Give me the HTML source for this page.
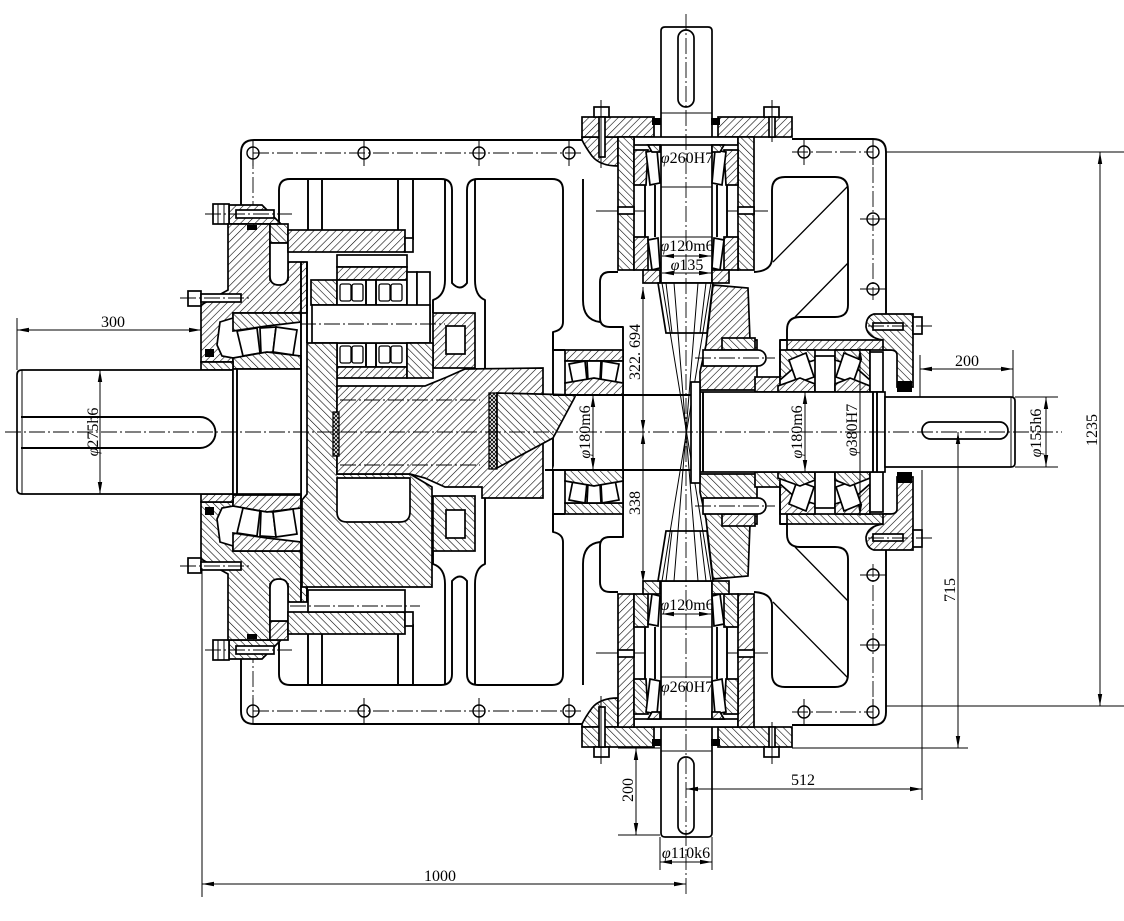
<!DOCTYPE html>
<html><head><meta charset="utf-8">
<style>
html,body{margin:0;padding:0;background:#fff}
svg{display:block}
text{font-family:"Liberation Serif","DejaVu Serif",serif;font-size:16px;fill:#000}
.o{fill:none;stroke:#000;stroke-width:1.9;stroke-linejoin:round}
.w{fill:#fff;stroke:#000;stroke-width:1.7}
.ha{fill:url(#ha);stroke:#000;stroke-width:1.7}
.hb{fill:url(#hb);stroke:#000;stroke-width:1.7}
.hx{fill:url(#hx);stroke:#000;stroke-width:1.3}
.c{fill:none;stroke:#000;stroke-width:0.9;stroke-dasharray:16 3 2 3}
.t{fill:none;stroke:#000;stroke-width:1}
.d{fill:none;stroke:#000;stroke-width:1;marker-start:url(#ar);marker-end:url(#ar)}
.k{fill:#000;stroke:none}
</style></head><body>
<svg width="1124" height="921" viewBox="0 0 1124 921" xmlns="http://www.w3.org/2000/svg">
<defs>
<pattern id="ha" width="5.2" height="5.2" patternUnits="userSpaceOnUse" patternTransform="rotate(45)"><rect width="5.2" height="5.2" fill="#fff"/><line x1="0" y1="0" x2="0" y2="5.2" stroke="#000" stroke-width="1.15"/></pattern>
<pattern id="hb" width="5.2" height="5.2" patternUnits="userSpaceOnUse" patternTransform="rotate(-45)"><rect width="5.2" height="5.2" fill="#fff"/><line x1="0" y1="0" x2="0" y2="5.2" stroke="#000" stroke-width="1.15"/></pattern>
<pattern id="hx" width="4" height="4" patternUnits="userSpaceOnUse"><rect width="4" height="4" fill="#fff"/><path d="M0,0L4,4M4,0L0,4" stroke="#000" stroke-width="0.9"/></pattern>
<marker id="ar" viewBox="0 0 12 6" refX="12" refY="3" markerWidth="12" markerHeight="6" markerUnits="userSpaceOnUse" orient="auto-start-reverse"><path d="M0,0.8L12,3L0,5.2z"/></marker>
</defs>

<g id="S">
  <path class="o" d="M241,206 V153 Q241,140 254,140 H584"/>
  <path class="o" d="M792,139 H873 Q886,139 886,152 V314"/>
  <path class="ha" d="M582,137 H618 V166 Q600,166 592,156 Q586,148 582,140 Z"/>
  <path class="c" d="M253,153 H582 M792,152 H873 V300 M253,153 V205"/>
  <g class="o" style="stroke-width:1.4">
    <circle cx="253" cy="153" r="6"/><circle cx="364" cy="153" r="6"/><circle cx="479" cy="153" r="6"/><circle cx="569" cy="153" r="6"/>
    <circle cx="804" cy="152" r="6"/><circle cx="873" cy="152" r="6"/><circle cx="873" cy="219" r="6"/><circle cx="873" cy="289" r="6"/>
  </g>
  <path class="t" d="M253,140V166M364,140V166M479,140V166M569,140V166M804,139V165M873,139V165M860,219H886M860,289H886M596,211H645M727,211H768"/>
  <path class="o" d="M279,222 V190 Q279,179 290,179 H441 Q452,179 452,190 V283 Q460,292 467,283 V190 Q467,179 478,179 H552 Q563,179 563,190 V322 Q563,330 553,332 V432"/>
  <path class="o" d="M308,179V230M322,179V230M398,179V240M413,179V240"/>
  <path class="o" d="M445,179 V280 Q445,296 433,300 V313 M475,179 V280 Q475,296 485,300 V368"/>
  <path class="o" d="M583,179 V300 Q583,320 600,322"/>
  <path class="o" d="M618,272 H610 Q600,272 600,282 V318 Q600,327 610,327 H623 V432"/>
  <path class="o" d="M754,272 Q772,271 772,258 V190 Q772,177 785,177 H835 Q848,177 848,190 V305 Q848,317 835,317 H800 Q787,317 787,330 V340"/>
  <path class="t" style="stroke-width:1.3" d="M848,186 L773,262 M848,263 L795,317"/>

  <path class="w" d="M661,283 V31 Q661,27 665,27 H708 Q712,27 712,31 V283 Z"/>
  <path class="t" d="M661,113H712M661,145H712M661,187H712M661,237H712"/>
  <rect class="w" x="678" y="30" width="16" height="77" rx="8"/>
  <rect class="ha" x="582" y="117" width="72" height="20"/>
  <rect class="ha" x="718" y="117" width="74" height="20"/>
  <rect class="k" x="652" y="118" width="9" height="7"/>
  <rect class="k" x="711" y="118" width="9" height="7"/>
  <rect class="w" x="634" y="137" width="104" height="8"/>
  <rect class="hb" x="618" y="137" width="16" height="133"/>
  <rect class="hb" x="738" y="137" width="16" height="133"/>
  <rect class="w" x="618" y="207" width="16" height="7"/>
  <rect class="w" x="738" y="207" width="16" height="7"/>
  <polygon class="ha" points="634,150 648,150 646,185 634,185"/>
  <polygon class="w" points="646,152 657,150 660,183 650,185"/>
  <polygon class="hb" points="648,145 660,145 660,152 652,152"/>
  <polygon class="ha" points="738,150 724,150 726,185 738,185"/>
  <polygon class="w" points="726,152 715,150 712,183 722,185"/>
  <polygon class="hb" points="724,145 712,145 712,152 720,152"/>
  <path class="o" d="M645,185V237M655,185V237M727,185V237M717,185V237"/>
  <polygon class="ha" points="634,237 648,237 648,270 634,270"/>
  <polygon class="w" points="648,240 658,238 660,268 652,270"/>
  <polygon class="ha" points="738,237 724,237 724,270 738,270"/>
  <polygon class="w" points="724,240 714,238 712,268 720,270"/>
  <rect class="ha" x="643" y="270" width="17" height="13"/>
  <rect class="ha" x="712" y="270" width="17" height="13"/>
  <rect class="w" x="594" y="107" width="15" height="10"/>
  <rect class="w" x="599" y="117" width="6" height="40"/>
  <rect class="w" x="764" y="107" width="15" height="10"/>
  <rect class="w" x="769" y="117" width="6" height="20"/>
  <path class="t" d="M601,100V168M772,100V142"/>

  <polygon class="w" points="658,283 713,283 707,333 666,333"/>
  <path class="t" d="M666,283L672,333M706,283L700,333"/>
  <polygon class="ha" points="713,285 748,288 750,340 757,340 757,390 700,390 700,372 706,345"/>
  <rect class="hb" x="722" y="338" width="33" height="12"/>
  <path class="w" d="M703,350 H758 A8,8 0 0 1 758,366 H703 Z"/>
  <path class="c" d="M695,358H775"/>

  <polygon class="ha" points="229,205 262,205 281,224 229,224"/>
  <rect class="w" x="236" y="210" width="38" height="8"/>
  <rect class="w" x="213" y="204" width="16" height="20"/>
  <path class="t" d="M218,204V224M224,204V224"/>
  <line class="c" x1="205" y1="214" x2="292" y2="214"/>
  <polygon class="ha" points="228,224 270,224 270,280 288,280 288,262 307,262 307,313 233,313 233,318 220,322 217,345 222,356 233,358 233,362 201,362 201,305 228,290"/>
  <rect class="hb" x="270" y="224" width="18" height="19"/>
  <path class="w" d="M270,243 H288 V276 Q288,285 279,285 Q270,285 270,276 Z"/>
  <rect class="k" x="247" y="225" width="10" height="5"/>
  <rect class="k" x="205" y="349" width="9" height="8"/>
  <rect class="ha" x="288" y="230" width="117" height="22"/>
  <rect class="w" x="405" y="238" width="8" height="14"/>
  <polygon class="hb" points="233,313 301,313 301,322 267,326 233,331"/>
  <polygon class="w" points="237,331 257,328 260,353 243,356"/>
  <polygon class="w" points="260,328 276,327 273,352 261,353"/>
  <polygon class="w" points="276,327 297,330 293,355 273,352"/>
  <polygon class="hb" points="233,358 267,352 301,356 301,369 233,369"/>
  <rect class="w" x="188" y="291" width="13" height="15"/>
  <rect class="w" x="201" y="294" width="40" height="8"/>
  <line class="c" x1="180" y1="298" x2="252" y2="298"/>
  <rect class="hb" x="201" y="362" width="32" height="8"/>
  <rect class="ha" x="433" y="313" width="42" height="55"/>
  <rect class="w" x="446" y="326" width="19" height="28"/>
  <path class="o" d="M301,262V432M307,262V343"/>

  <rect class="ha" x="565" y="350" width="58" height="11"/>
  <rect class="w" x="565" y="361" width="58" height="22"/>
  <polygon class="w" points="569,364 585,361 587,381 573,384"/>
  <polygon class="w" points="587,361 601,361 600,380 588,381"/>
  <polygon class="w" points="602,361 619,364 615,384 601,380"/>
  <polygon class="ha" points="565,383 594,378 623,383 623,395 565,395"/>
  <path class="o" d="M553,332 V350 H565"/>

  <rect class="ha" x="755" y="377" width="25" height="15"/>
  <rect class="ha" x="787" y="340" width="116" height="10"/>
  <polygon class="hb" points="780,350 815,350 815,360 796,366 780,380"/>
  <polygon class="w" points="789,360 806,353 814,377 797,383"/>
  <polygon class="ha" points="778,392 778,386 800,378 815,384 815,392"/>
  <rect class="w" x="815" y="356" width="20" height="36"/>
  <polygon class="hb" points="835,350 870,350 870,380 854,366 835,360"/>
  <polygon class="w" points="844,353 861,360 853,383 836,377"/>
  <polygon class="ha" points="835,392 835,384 850,378 870,386 870,392"/>
  <rect class="w" x="870" y="352" width="13" height="40"/>
  <path class="hb" d="M874,314 H913 V387 H897 V355 Q897,350 890,350 H883 V340 Q868,338 866,327 Q866,316 874,314 Z"/>
  <rect class="k" x="897" y="381" width="15" height="11"/>
  <rect class="w" x="873" y="323" width="30" height="7"/>
  <rect class="w" x="913" y="317" width="9" height="17"/>
  <line class="c" x1="868" y1="326" x2="932" y2="326"/>
  <path class="o" d="M787,340 H780 V377"/>
</g>
<use href="#S" transform="matrix(1,0,0,-1,0,864)"/>

<path class="w" d="M233,370 H22 Q17,370 17,375 V489 Q17,494 22,494 H233 Z"/>
<path class="t" d="M22,370V494"/>
<path class="o" d="M21,417 H200 A15.5,15.5 0 0 1 200,448 H21"/>
<rect class="w" x="233" y="369" width="68" height="125"/>
<path class="o" d="M237,369V494"/>

<rect class="w" x="337" y="255" width="70" height="12"/>
<rect class="ha" x="337" y="267" width="70" height="13"/>
<rect class="hb" x="311" y="280" width="26" height="25"/>
<rect class="w" x="337" y="280" width="70" height="25"/>
<rect class="w" x="337" y="343" width="70" height="24"/>
<rect class="ha" x="337" y="367" width="70" height="11"/>
<rect class="w" x="407" y="272" width="10" height="71"/>
<rect class="w" x="417" y="272" width="13" height="78"/>
<g class="w" style="stroke-width:1.3">
  <rect x="340" y="284" width="11" height="17" rx="2"/><rect x="352" y="284" width="11" height="17" rx="2"/>
  <rect x="379" y="284" width="11" height="17" rx="2"/><rect x="391" y="284" width="11" height="17" rx="2"/>
  <rect x="340" y="346" width="11" height="17" rx="2"/><rect x="352" y="346" width="11" height="17" rx="2"/>
  <rect x="379" y="346" width="11" height="17" rx="2"/><rect x="391" y="346" width="11" height="17" rx="2"/>
</g>
<path class="o" d="M366,280V305M376,280V305M366,343V367M376,343V367"/>
<rect class="w" x="312" y="305" width="118" height="38"/>
<path class="c" d="M300,324H445"/>

<polygon class="hb" points="307,343 337,343 337,474 410,474 432,487 432,587 302,587 302,500 307,494"/>
<path class="w" d="M337,478 H410 V512 Q410,522 400,522 H347 Q337,522 337,512 Z"/>
<rect class="w" x="308" y="590" width="97" height="22"/>
<path class="c" d="M290,606H420"/>

<polygon class="ha" points="337,386 425,386 447,377 465,369 543,368 543,498 482,498 482,487 445,487 425,478 410,474 337,474"/>
<rect class="hb" x="407" y="343" width="26" height="35"/>
<path class="c" d="M340,400H480M340,465H480"/>
<rect class="hx" x="333" y="412" width="6" height="44"/>
<rect class="hx" x="489" y="393" width="8" height="76"/>
<polygon class="hb" points="497,393 576,395 553,438 497,468"/>

<path class="w" style="stroke:none" d="M576,396 H691 V469 H553 Z"/>
<path class="o" d="M553,395H691M545,470H691M623,395V470"/>

<path class="t" d="M662,283 L711,581 M711,283 L662,581"/>
<path class="t" d="M674,283 L698,581 M698,283 L674,581"/>

<rect class="w" x="700" y="392" width="185" height="80"/>
<path class="o" d="M703,392V472M873,392V472M877,392V472"/>
<rect class="w" x="691" y="382" width="9" height="101"/>
<path class="w" d="M885,397 H1011 Q1015,397 1015,401 V463 Q1015,467 1011,467 H885 Z"/>
<path class="t" d="M1011,397V467"/>
<rect class="w" x="922" y="422" width="86" height="17" rx="8.5"/>

<path class="c" d="M5,432 H1062"/>
<path class="c" d="M686,14 V897"/>

<g class="t">
  <path d="M17,318V370"/>
  <path d="M886,152H1124M886,706H1124"/>
  <path d="M920,355V397M1013,350V397"/>
  <path d="M1015,397H1058M1015,467H1058"/>
  <path d="M792,748H968"/>
  <path d="M922,470V800"/>
  <path d="M618,748H660M618,835H660"/>
  <path d="M660,837V870M712,837V870"/>
  <path d="M202,568V897"/>
</g>
<line class="d" x1="17" y1="330" x2="201" y2="330"/>
<line class="d" x1="100" y1="370" x2="100" y2="494"/>
<line class="d" x1="593" y1="395" x2="593" y2="470"/>
<line class="d" x1="643" y1="287" x2="643" y2="432"/>
<line class="d" x1="643" y1="432" x2="643" y2="583"/>
<line class="d" x1="805" y1="392" x2="805" y2="472"/>
<line class="d" x1="860" y1="348" x2="860" y2="516"/>
<line class="d" x1="1046" y1="397" x2="1046" y2="467"/>
<line class="d" x1="1100" y1="152" x2="1100" y2="706"/>
<line class="d" x1="920" y1="369" x2="1013" y2="369"/>
<line class="d" x1="958" y1="432" x2="958" y2="748"/>
<line class="d" x1="686" y1="789" x2="922" y2="789"/>
<line class="d" x1="636" y1="748" x2="636" y2="835"/>
<line class="d" x1="660" y1="862" x2="712" y2="862"/>
<line class="d" x1="202" y1="884" x2="686" y2="884"/>
<line class="d" x1="662" y1="256" x2="711" y2="256"/>
<line class="d" x1="662" y1="273" x2="711" y2="273"/>
<line class="d" x1="662" y1="614" x2="711" y2="614"/>

<text x="113" y="327" text-anchor="middle">300</text>
<text x="967" y="366" text-anchor="middle">200</text>
<text x="803" y="785" text-anchor="middle">512</text>
<text x="440" y="881" text-anchor="middle">1000</text>
<g style="font-size:15px">
<text x="686" y="858" text-anchor="middle"><tspan font-style="italic">φ</tspan>110k6</text>
<text x="687" y="163" text-anchor="middle"><tspan font-style="italic">φ</tspan>260H7</text>
<text x="687" y="692" text-anchor="middle"><tspan font-style="italic">φ</tspan>260H7</text>
<text x="687" y="251" text-anchor="middle"><tspan font-style="italic">φ</tspan>120m6</text>
<text x="687" y="610" text-anchor="middle"><tspan font-style="italic">φ</tspan>120m6</text>
<text x="687" y="270" text-anchor="middle"><tspan font-style="italic">φ</tspan>135</text>
<text transform="translate(98,432) rotate(-90)" text-anchor="middle"><tspan font-style="italic">φ</tspan>275h6</text>
<text transform="translate(590,432) rotate(-90)" text-anchor="middle"><tspan font-style="italic">φ</tspan>180m6</text>
<text transform="translate(802,432) rotate(-90)" text-anchor="middle"><tspan font-style="italic">φ</tspan>180m6</text>
<text transform="translate(857,430) rotate(-90)" text-anchor="middle"><tspan font-style="italic">φ</tspan>380H7</text>
<text transform="translate(1041,433) rotate(-90)" text-anchor="middle"><tspan font-style="italic">φ</tspan>155h6</text>
</g>
<text transform="translate(640,352) rotate(-90)" text-anchor="middle">322. 694</text>
<text transform="translate(640,503) rotate(-90)" text-anchor="middle">338</text>
<text transform="translate(1097,430) rotate(-90)" text-anchor="middle">1235</text>
<text transform="translate(955,590) rotate(-90)" text-anchor="middle">715</text>
<text transform="translate(633,790) rotate(-90)" text-anchor="middle">200</text>
</svg>
</body></html>
